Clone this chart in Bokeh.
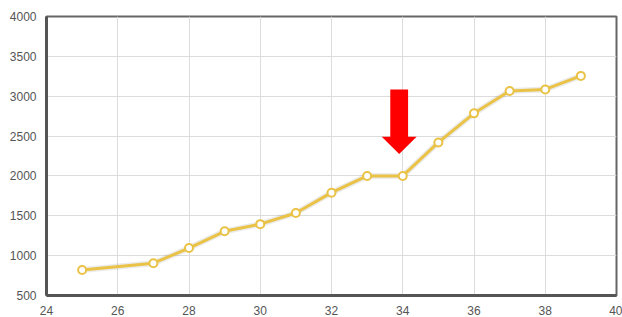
from bokeh.plotting import figure
from bokeh.models import SingleIntervalTicker, PolyAnnotation, Range1d
from bokeh.embed import file_html
from bokeh.resources import INLINE

x_vals = [25, 27, 28, 29, 30, 31, 32, 33, 34, 35, 36, 37, 38, 39]
y_vals = [820, 905, 1095, 1305, 1395, 1535, 1790, 2000, 2000, 2420, 2785, 3065, 3085, 3255]

# arrow annotation (data units)
arrow_cx = 33.9
arrow_shaft_half = 0.25
arrow_head_half = 0.49
arrow_top = 3085
arrow_head_base = 2490
arrow_tip = 2275

gold = "#e9c246"
text_col = "#555555"

p = figure(width=622, height=317, output_backend="svg", toolbar_location=None,
           x_range=Range1d(24, 40), y_range=Range1d(500, 4000),
           min_border_left=46, min_border_right=6, min_border_top=16, min_border_bottom=21)

p.outline_line_color = "#666666"
p.outline_line_width = 2
p.background_fill_color = "white"
p.border_fill_color = "white"

for ax in (p.xaxis, p.yaxis):
    ax.axis_line_color = "#555555"
    ax.axis_line_width = 3
    ax.major_tick_line_color = None
    ax.minor_tick_line_color = None
    ax.major_tick_out = 0
    ax.major_tick_in = 0
    ax.major_label_text_font = "Liberation Sans"
    ax.major_label_text_font_size = "12px"
    ax.major_label_text_color = text_col
    ax.major_label_standoff = 6

p.xaxis.ticker = SingleIntervalTicker(interval=2)
p.yaxis.ticker = SingleIntervalTicker(interval=500)

p.xgrid.grid_line_color = "#dcdcdc"
p.ygrid.grid_line_color = "#dcdcdc"
p.xgrid.ticker = SingleIntervalTicker(interval=2)
p.ygrid.ticker = SingleIntervalTicker(interval=500)

# soft shadow
p.line(x_vals, y_vals, line_color="#000000", line_alpha=0.08, line_width=6)
p.line(x_vals, y_vals, line_color=gold, line_width=3)
p.scatter(x_vals, y_vals, marker="circle", size=8, fill_color="white",
          line_color=gold, line_width=2)

arrow = PolyAnnotation(
    xs=[arrow_cx - arrow_shaft_half, arrow_cx + arrow_shaft_half, arrow_cx + arrow_shaft_half,
        arrow_cx + arrow_head_half, arrow_cx, arrow_cx - arrow_head_half, arrow_cx - arrow_shaft_half],
    ys=[arrow_top, arrow_top, arrow_head_base, arrow_head_base, arrow_tip, arrow_head_base, arrow_head_base],
    fill_color="#ff0000", fill_alpha=1.0, line_color=None)
p.add_layout(arrow)

open("out.html", "w").write(file_html(p, INLINE))
